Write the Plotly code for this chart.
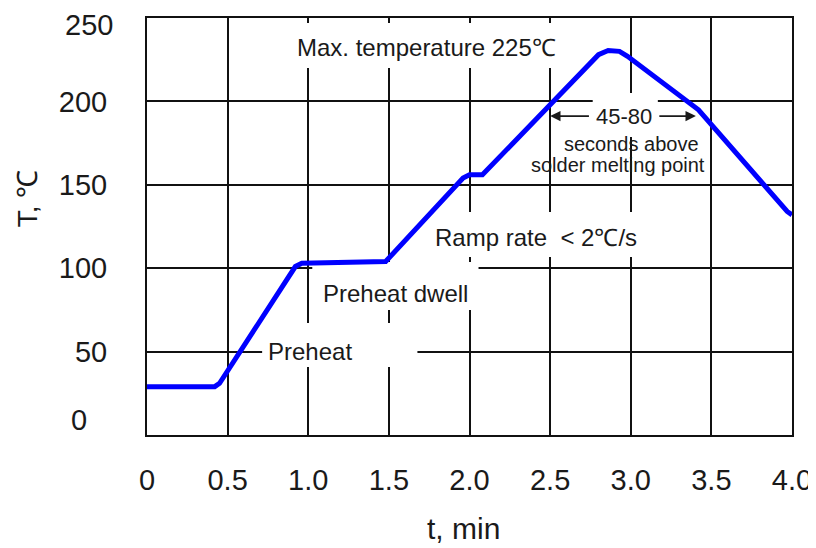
import plotly.graph_objects as go

# ---- data ----
time_min = [0, 0.42, 0.45, 0.92, 0.96, 1.48, 1.96, 2.0, 2.08, 2.80, 2.86, 2.93, 2.98, 3.42, 3.97, 4.0]
temp_c = [29, 29, 31, 101, 103, 104, 154, 156, 156, 228, 230.5, 230, 227, 195, 134, 132]

x_tickvals = [0, 0.5, 1.0, 1.5, 2.0, 2.5, 3.0, 3.5, 4.0]
x_ticktext = ["0", "0.5", "1.0", "1.5", "2.0", "2.5", "3.0", "3.5", "4.0"]
y_tickvals = [0, 50, 100, 150, 200, 250]
y_ticktext = ["0", "50", "100", "150", "200", "250"]

labels = ["Max. temperature 225\u2103", "Ramp rate  < 2\u2103/s", "Preheat dwell", "Preheat",
          "45-80", "seconds above", "solder melting point"]
label_x = [1.733, 2.41, 1.54, 1.012, 2.957, 3.006, 2.919]
label_y = [232.6, 118.7, 85.1, 49.8, 191.2, 174.5, 162.0]
label_size = [24, 24, 24, 24, 22, 20, 20]

# white boxes that interrupt the grid behind labels: (x0, x1, y0, y1)
mask_boxes = [
    (0.89, 2.60, 220, 247),
    (2.764, 3.168, 178.7, 205),
    (1.82, 3.09, 106.7, 133.7),
    (1.025, 2.056, 74.9, 103.7),
    (0.714, 1.677, 40.8, 67.1),
]

FONT = "Liberation Sans, Arial, sans-serif"
INK = "#1a1a1a"
TICK_SIZE = 29

fig = go.Figure()
fig.add_trace(go.Scatter(
    x=time_min, y=temp_c, mode="lines",
    line=dict(color="#0000FF", width=5),
    hoverinfo="skip", showlegend=False,
))

for (x0, x1, y0, y1) in mask_boxes:
    fig.add_shape(type="rect", xref="x", yref="y", x0=x0, x1=x1, y0=y0, y1=y1,
                  fillcolor="white", line=dict(width=0), layer="between")

for txt, lx, ly, fs in zip(labels, label_x, label_y, label_size):
    fig.add_annotation(x=lx, y=ly, xref="x", yref="y", text=txt, showarrow=False,
                       font=dict(family=FONT, size=fs, color=INK),
                       xanchor="center", yanchor="middle")

# 45-80 arrows
fig.add_annotation(x=2.50, y=191.2, ax=2.75, ay=191.2, xref="x", yref="y",
                   axref="x", ayref="y", text="", showarrow=True,
                   arrowhead=2, arrowsize=1.3, arrowwidth=1.6, arrowcolor=INK)
fig.add_annotation(x=3.404, y=191.2, ax=3.168, ay=191.2, xref="x", yref="y",
                   axref="x", ayref="y", text="", showarrow=True,
                   arrowhead=2, arrowsize=1.3, arrowwidth=1.6, arrowcolor=INK)

# y "0" label and "250" label (drawn offset as in the reference)
fig.add_annotation(x=-0.105, y=y_tickvals[0], xref="paper", yref="y", text=y_ticktext[0],
                   showarrow=False, yshift=15, xanchor="center", yanchor="middle",
                   font=dict(family=FONT, size=TICK_SIZE, color=INK))
fig.add_annotation(x=-0.0496, y=y_tickvals[-1], xref="paper", yref="y", text=y_ticktext[-1],
                   showarrow=False, yshift=-7, xanchor="right", yanchor="middle",
                   font=dict(family=FONT, size=TICK_SIZE, color=INK))

# axis titles
fig.add_annotation(x=-0.186, y=0.568, xref="paper", yref="paper", text="T, \u2103",
                   textangle=-90, showarrow=False, xanchor="center", yanchor="middle",
                   font=dict(family=FONT, size=28, color=INK))
fig.add_annotation(x=0.49, y=-0.225, xref="paper", yref="paper", text="t, min",
                   showarrow=False, xanchor="center", yanchor="middle",
                   font=dict(family=FONT, size=30, color=INK))

# page body adds ~8px offset; size figure so the plot lands where the reference has it
fig.update_layout(
    width=808, height=540,
    margin=dict(l=139, r=24, t=10, b=113, autoexpand=False),
    paper_bgcolor="white", plot_bgcolor="white",
    font=dict(family=FONT, size=TICK_SIZE, color=INK),
    showlegend=False,
)
fig.update_xaxes(
    range=[0, 4], tickvals=x_tickvals, ticktext=x_ticktext,
    showgrid=True, gridcolor="#111", gridwidth=1.6, zeroline=False,
    showline=True, mirror=True, linecolor="#111", linewidth=2,
    ticks="", ticklabelstandoff=18, automargin=False, ticklabeloverflow="allow",
    tickfont=dict(family=FONT, size=TICK_SIZE, color=INK),
)
fig.update_yaxes(
    range=[0, 250], tickvals=y_tickvals, ticktext=[""] + y_ticktext[1:-1] + [""],
    showgrid=True, gridcolor="#111", gridwidth=1.6, zeroline=False,
    showline=True, mirror=True, linecolor="#111", linewidth=2,
    ticks="", ticklabelstandoff=32, automargin=False, ticklabeloverflow="allow",
    tickfont=dict(family=FONT, size=TICK_SIZE, color=INK),
)

fig.write_html("out.html")
